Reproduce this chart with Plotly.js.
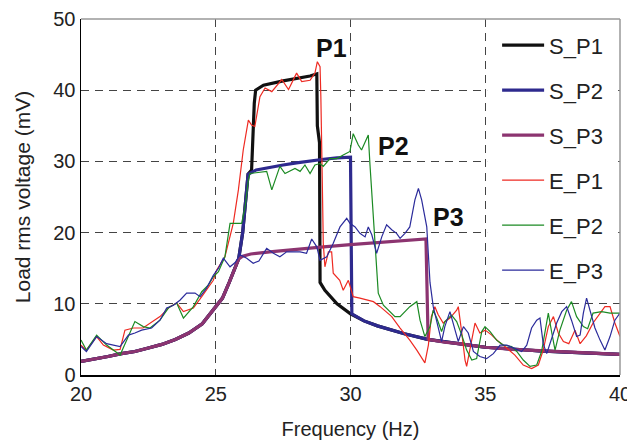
<!DOCTYPE html>
<html>
<head>
<meta charset="utf-8">
<script src="https://cdn.plot.ly/plotly-3.0.1.min.js"></script>
<style>html,body{margin:0;padding:0;background:#fff;overflow:hidden;}#chart{width:627px;height:444px;}</style>
</head>
<body>
<div id="chart"></div>
<script>
// Simulated curves
const sP1_x = [20,20.5,21,21.5,22,22.5,23,23.5,24,24.5,25,25.25,25.5,25.7,25.85,26.0,26.1,26.2,26.33,26.39,26.43,26.48,26.77,27.5,28,28.5,28.75,28.77,28.85,28.87,29.05,29.5,30,30.5,31,31.5,32,32.86,33.5,34,35,36,37,38,39,40];
const sP1_y = [1.9,2.2,2.6,3.0,3.3,3.8,4.3,5.0,5.9,7.2,9.5,10.8,13.0,15.0,16.3,20,24,28.2,28.8,34.9,38.2,40.0,40.7,41.3,41.6,42.0,42.3,35,32.6,13.0,11.9,10.0,8.6,7.6,6.9,6.3,5.8,5.0,4.6,4.4,3.9,3.6,3.4,3.2,3.05,2.9];
const sP2_x = [20,20.5,21,21.5,22,22.5,23,23.5,24,24.5,25,25.25,25.5,25.7,25.85,26.0,26.1,26.2,26.5,27,27.5,28,28.5,29,29.5,30.0,30.05,30.5,31,31.5,32,32.86,33.5,34,35,36,37,38,39,40];
const sP2_y = [1.9,2.2,2.6,3.0,3.3,3.8,4.3,5.0,5.9,7.2,9.5,10.8,13.0,15.0,16.3,20,24,28.2,28.8,29.2,29.5,29.8,30.1,30.3,30.5,30.6,8.6,7.6,6.9,6.3,5.8,5.0,4.6,4.4,3.9,3.6,3.4,3.2,3.05,2.9];
const sP3_x = [20,20.5,21,21.5,22,22.5,23,23.5,24,24.5,25,25.25,25.5,25.7,25.85,26.0,26.3,27,28,29,30,31,32,32.8,32.88,33.5,34,35,36,37,38,39,40];
const sP3_y = [1.9,2.2,2.6,3.0,3.3,3.8,4.3,5.0,5.9,7.2,9.5,10.8,13.0,15.0,16.3,16.7,17.0,17.3,17.7,18.0,18.3,18.6,18.9,19.1,5.0,4.6,4.4,3.9,3.6,3.4,3.2,3.05,2.9];

// Experimental curves
const eP1_x = [20,20.2,20.58,20.83,21.2,21.45,21.63,21.94,22.3,22.68,22.93,23.3,23.55,23.8,24.17,24.48,24.91,25.03,25.34,25.65,25.84,26.02,26.21,26.33,26.45,26.64,26.83,27.08,27.45,27.7,28.0,28.19,28.5,28.68,28.77,28.87,28.9,28.95,28.99,29.05,29.18,29.3,29.36,29.6,29.73,29.92,30.1,30.35,30.85,31.1,31.53,31.84,32.2,32.46,32.76,32.89,33.0,33.13,33.25,33.44,33.69,33.94,34.0,34.13,34.25,34.31,34.5,34.62,34.8,35.0,35.24,35.49,35.73,36.1,36.41,36.72,36.97,37.15,37.34,37.53,37.71,37.9,38.1,38.33,38.52,38.75,39.0,39.26,39.44,39.63,39.81,40];
const eP1_y = [4.2,3.5,5.4,4.2,3.5,3.6,6.3,6.6,6.6,7.5,8.2,9.6,10.1,8.9,9.4,11.0,13.3,14.7,16.6,21.3,26.0,31.6,35.8,35.1,34.9,39.1,40.3,39.8,41.5,40.1,42.4,41.2,41.4,42.4,44.0,43.3,39.1,28,18.5,15.2,17.3,17.3,14.3,13.3,11.9,13.3,11.0,10.8,10.3,9.6,8.2,6.6,4.9,3.5,1.7,4.2,8.2,9.6,8.5,7.3,8.0,9.1,9.6,5.9,2.1,1.2,4.9,7.3,5.9,6.3,5.6,4.7,4.0,2.8,1.4,0.9,1.4,3.5,6.8,8.2,5.9,4.7,4.4,6.3,4.4,5.5,7.3,8.7,9.6,9.6,7.3,5.4];
const eP2_x = [20,20.2,20.58,20.95,21.45,21.7,22.0,22.31,22.56,22.93,23.24,23.55,23.8,24.17,24.48,24.72,24.91,25.1,25.34,25.53,25.96,26.09,26.21,26.27,26.6,26.89,27.08,27.38,27.57,27.94,28.13,28.31,28.5,28.68,28.87,28.99,29.24,29.49,29.73,29.98,30.1,30.29,30.41,30.54,30.66,30.72,30.85,31.03,31.22,31.47,31.65,31.84,32.2,32.46,32.58,32.76,32.95,33.07,33.2,33.38,33.5,33.75,33.94,34.13,34.31,34.5,34.68,34.87,34.99,35.18,35.42,35.67,35.98,36.17,36.41,36.66,36.91,37.09,37.22,37.34,37.47,37.59,37.77,38.02,38.2,38.39,38.64,38.8,39.0,39.32,39.63,40];
const eP2_y = [4.9,3.5,5.6,4.2,2.8,4.9,7.5,6.8,6.6,7.7,9.4,10.1,8.0,9.6,11.7,12.6,13.8,14.5,16.6,21.3,21.3,23.6,27.4,28.3,28.5,28.6,26.0,29.3,28.3,29.0,28.6,29.5,28.3,29.5,29.7,29.3,30.4,30.4,30.9,31.4,33.9,32.3,31.6,32.8,33.7,29.7,21.8,11.5,9.8,8.9,8.2,8.2,9.6,10.3,7.7,5.4,6.8,9.1,8.0,6.1,7.5,8.4,7.5,5.6,3.5,2.1,2.3,6.1,6.8,6.1,4.9,4.2,4.0,3.3,2.1,1.2,1.4,3.3,6.3,8.7,5.9,3.5,6.3,9.1,10.3,8.2,6.8,6.5,8.7,8.9,8.7,8.7];
const eP3_x = [20,20.2,20.58,20.95,21.45,21.76,22.0,22.25,22.62,22.93,23.18,23.43,23.67,23.92,24.23,24.42,24.66,24.91,25.1,25.28,25.53,25.72,25.9,26.15,26.39,26.6,26.89,27.14,27.38,27.63,28.13,28.37,28.56,28.75,28.87,29.12,29.36,29.61,29.86,29.98,30.17,30.35,30.54,30.66,30.79,30.97,31.16,31.34,31.53,31.71,31.84,32.02,32.2,32.39,32.52,32.64,32.83,32.95,33.07,33.26,33.38,33.5,33.69,33.88,34.0,34.19,34.37,34.56,34.8,35.05,35.3,35.55,35.8,36.1,36.35,36.54,36.72,36.91,37.03,37.15,37.28,37.47,37.65,37.84,38.02,38.2,38.39,38.52,38.64,38.76,38.89,39.07,39.26,39.44,39.63,39.81,40];
const eP3_y = [4.0,3.3,5.4,4.4,4.0,5.6,5.9,6.3,6.6,7.7,9.4,9.8,10.5,11.5,11.5,11.0,12.2,14.0,15.0,16.4,15.2,15.8,16.9,16.4,15.7,16.0,17.8,17.1,16.6,17.3,17.3,17.1,19.1,18.0,16.1,16.6,18.5,20.8,22.0,21.3,20.8,19.9,19.4,20.8,19.7,17.1,19.4,21.1,20.4,19.9,19.2,19.9,20.8,24.6,26.2,24.6,20.8,13.0,9.6,6.3,4.7,6.8,8.9,6.3,4.7,6.8,5.9,3.3,2.6,2.3,3.0,4.2,4.2,3.7,3.3,4.2,6.6,7.7,8.0,4.4,3.0,5.2,7.3,8.9,9.6,7.7,5.4,5.6,8.7,10.8,9.1,6.6,4.9,3.5,5.4,7.7,8.7];

const seriesNames = ['S_P1','S_P2','S_P3','E_P1','E_P2','E_P3'];
const peakLabels = ['P1','P2','P3'];
const peakLabelX = [29.3, 31.6, 33.65];
const peakLabelY = [45.9, 32.2, 22.2];
const xTicks = [20,25,30,35,40];
const yTicks = [0,10,20,30,40,50];

const xs = [sP1_x,sP2_x,sP3_x,eP1_x,eP2_x,eP3_x];
const ys = [sP1_y,sP2_y,sP3_y,eP1_y,eP2_y,eP3_y];
const colors = ['#111111','#2e2a8e','#8c3470','#ee2a22','#1b8a23','#2b2b9b'];
const widths = [3.2,3.2,3.2,1.2,1.2,1.2];

const traces = seriesNames.map((n,i)=>({
  x: xs[i], y: ys[i], name: n, type:'scatter', mode:'lines',
  legendgroup: n,
  line:{color:colors[i], width:widths[i]}
}));

const layout = {
  width:627, height:444,
  margin:{l:81,r:7,t:19,b:69},
  paper_bgcolor:'#fff', plot_bgcolor:'#fff',
  font:{family:'Liberation Sans, Arial, sans-serif', size:20, color:'#222'},
  showlegend:true,
  legend:{x:0.772, xanchor:'left', y:0.985, yanchor:'top', bgcolor:'rgba(0,0,0,0)', borderwidth:0,
          font:{size:22, color:'#222'}, tracegroupgap:13.4, itemwidth:42},
  xaxis:{range:[20,40], tickvals:xTicks, ticktext:xTicks.map(String), showgrid:true,
         gridcolor:'#444', griddash:'8px,6px', gridwidth:1, zeroline:false,
         showline:true, linecolor:'#000', linewidth:1.5, ticks:'',
         tickfont:{size:20}, ticklabeloverflow:'allow',
         title:{text:'Frequency (Hz)', font:{size:20}, standoff:18}},
  yaxis:{range:[0,50], tickvals:yTicks, ticktext:yTicks.map(String), showgrid:true,
         gridcolor:'#444', griddash:'8px,6px', gridwidth:1, zeroline:false,
         showline:true, linecolor:'#000', linewidth:1.5, ticks:'',
         tickfont:{size:20}, ticklabeloverflow:'allow',
         title:{text:'Load rms voltage (mV)', font:{size:21}, standoff:17}},
  shapes:[
    {type:'rect', xref:'x', yref:'y', x0:35.07, x1:39.93, y0:11.9, y1:49.9, fillcolor:'#fff', line:{width:0}, layer:'above'},
    {type:'line', xref:'paper', yref:'paper', x0:0, x1:1, y0:1, y1:1, line:{color:'#999', width:1.5}},
    {type:'line', xref:'paper', yref:'paper', x0:1, x1:1, y0:0, y1:1, line:{color:'#999', width:1.5}}
  ],
  annotations: peakLabels.map((t,i)=>({
    x: peakLabelX[i], y: peakLabelY[i], xref:'x', yref:'y', text:'<b>'+t+'</b>',
    showarrow:false, font:{size:25, color:'#111'}
  }))
};

Plotly.newPlot('chart', traces, layout, {displayModeBar:false, staticPlot:true});
</script>
</body>
</html>
